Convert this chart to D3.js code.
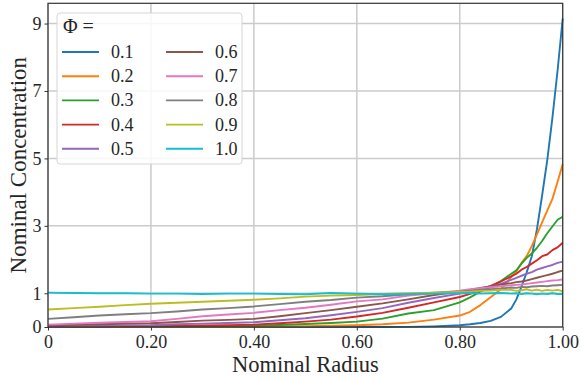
<!DOCTYPE html>
<html><head><meta charset="utf-8">
<script src="https://cdn.jsdelivr.net/npm/d3@7"></script>
<style>body{margin:0;background:#fff}svg{display:block}</style>
</head><body>
<svg id="c" width="582" height="376"></svg>
<script>
const radius = [0,0.05,0.1,0.15,0.2,0.25,0.3,0.35,0.4,0.45,0.5,0.55,0.6,0.65,0.7,0.75,0.8,0.82,0.84,0.86,0.88,0.9,0.91,0.92,0.93,0.94,0.95,0.96,0.97,0.98,0.99,1.0];
const phiLabels = ["0.1","0.2","0.3","0.4","0.5","0.6","0.7","0.8","0.9","1.0"];
const phi01 = [0,0,0,0,0,0,0,0,0,0,0,0,0,0.002,0.005,0.02,0.05,0.08,0.12,0.18,0.30,0.55,0.82,1.2,1.62,2.1,2.9,3.9,4.95,6.2,7.6,9.15];
const phi02 = [0,0,0,0.002,0.003,0.004,0.005,0.008,0.012,0.018,0.025,0.035,0.05,0.08,0.13,0.22,0.34,0.45,0.65,0.88,1.12,1.48,1.65,1.9,2.1,2.4,2.75,3.1,3.45,3.8,4.3,4.83];
const phi03 = [0.005,0.006,0.008,0.01,0.012,0.016,0.02,0.025,0.035,0.06,0.09,0.12,0.16,0.25,0.40,0.50,0.73,0.88,1.05,1.18,1.36,1.58,1.68,1.88,2.05,2.18,2.35,2.55,2.78,2.98,3.18,3.27];
const phi04 = [0.01,0.012,0.015,0.02,0.025,0.035,0.045,0.055,0.07,0.11,0.16,0.22,0.31,0.42,0.57,0.73,0.89,0.98,1.10,1.22,1.35,1.5,1.58,1.7,1.78,1.88,1.98,2.1,2.15,2.28,2.36,2.5];
const phi05 = [0.02,0.025,0.03,0.04,0.05,0.08,0.1,0.12,0.14,0.2,0.26,0.35,0.45,0.56,0.72,0.86,0.99,1.06,1.13,1.2,1.28,1.4,1.46,1.52,1.58,1.63,1.7,1.75,1.8,1.84,1.9,1.94];
const phi06 = [0.05,0.065,0.08,0.095,0.11,0.15,0.19,0.21,0.24,0.32,0.41,0.5,0.6,0.7,0.82,0.95,1.05,1.1,1.16,1.21,1.26,1.3,1.33,1.35,1.38,1.42,1.46,1.5,1.54,1.58,1.63,1.67];
const phi07 = [0.07,0.1,0.13,0.15,0.17,0.24,0.32,0.37,0.42,0.5,0.57,0.66,0.76,0.82,0.93,1.0,1.08,1.12,1.15,1.18,1.21,1.24,1.25,1.26,1.28,1.3,1.32,1.34,1.36,1.38,1.39,1.41];
const phi08 = [0.24,0.29,0.34,0.38,0.41,0.46,0.52,0.56,0.61,0.68,0.75,0.8,0.87,0.91,0.97,1.02,1.05,1.07,1.1,1.12,1.14,1.17,1.16,1.19,1.18,1.2,1.21,1.22,1.21,1.23,1.24,1.25];
const phi09 = [0.52,0.56,0.6,0.65,0.69,0.72,0.75,0.78,0.81,0.85,0.9,0.93,0.95,0.98,1.0,1.02,1.04,1.05,1.07,1.08,1.1,1.1,1.07,1.09,1.12,1.08,1.11,1.07,1.1,1.08,1.1,1.06];
const phi10 = [1.02,1.01,1.0,1.0,0.99,0.99,0.98,0.99,0.99,0.98,0.97,1.01,0.99,0.97,0.98,0.99,1.0,1.01,0.99,1.0,1.01,0.99,1.0,0.98,1.0,0.99,0.97,0.99,0.98,1.0,0.98,0.98];
const seriesValues = [phi01,phi02,phi03,phi04,phi05,phi06,phi07,phi08,phi09,phi10];
const xTicks = [0,0.2,0.4,0.6,0.8,1.0];
const xTickLabels = ["0","0.20","0.40","0.60","0.80","1.00"];
const yTicks = [0,1,3,5,7,9];
const colors = ["#1f77b4","#ff7f0e","#2ca02c","#d62728","#9467bd","#8c564b","#e377c2","#7f7f7f","#bcbd22","#17becf"];

const svg = d3.select("#c");
const font = "'Liberation Serif','Times New Roman',serif";
const L=48, R=562.7, T=3.3, B=327;
const x = d3.scaleLinear().domain([0,1]).range([L,R]);
const y = d3.scaleLinear().domain([0,9.6]).range([B,T]);

// grid
const g = svg.append("g");
g.selectAll("line.gx").data(xTicks).join("line")
  .attr("x1",d=>x(d)).attr("x2",d=>x(d)).attr("y1",T).attr("y2",B)
  .attr("stroke","#cbcbcb").attr("stroke-width",1.5);
g.selectAll("line.gy").data(yTicks).join("line")
  .attr("x1",L).attr("x2",R).attr("y1",d=>y(d)).attr("y2",d=>y(d))
  .attr("stroke","#cbcbcb").attr("stroke-width",1.5);

// lines
const line = d3.line().x((d,i)=>x(radius[i])).y(d=>y(d));
svg.append("g").selectAll("path").data(seriesValues).join("path")
  .attr("d",d=>line(d)).attr("fill","none")
  .attr("stroke",(d,i)=>colors[i]).attr("stroke-width",1.9)
  .attr("stroke-linejoin","round").attr("stroke-linecap","butt");

// axes
const xa = svg.append("g").attr("transform",`translate(0,${B})`)
  .call(d3.axisBottom(x).tickValues(xTicks).tickFormat((d,i)=>xTickLabels[i]).tickSize(3.5).tickPadding(3));
const ya = svg.append("g").attr("transform",`translate(${L},0)`)
  .call(d3.axisLeft(y).tickValues(yTicks).tickFormat(d3.format("d")).tickSize(3.5).tickPadding(3));
[xa,ya].forEach(a=>{
  a.select(".domain").remove();
  a.selectAll(".tick line").attr("stroke","#333").attr("stroke-width",1);
  a.selectAll("text").attr("font-family",font).attr("font-size",18).attr("fill","#262626");
});
xa.selectAll("text").attr("dy","0.78em");

// frame
svg.append("rect").attr("x",L).attr("y",T).attr("width",R-L).attr("height",B-T)
  .attr("fill","none").attr("stroke","#333").attr("stroke-width",1.2);

// axis labels
svg.append("text").attr("x",(L+R)/2).attr("y",371.5).attr("text-anchor","middle")
  .attr("font-family",font).attr("font-size",22.5).attr("fill","#262626").text("Nominal Radius");
svg.append("text").attr("transform",`translate(26,${(T+B)/2}) rotate(-90)`).attr("text-anchor","middle")
  .attr("font-family",font).attr("font-size",23).attr("fill","#262626").text("Nominal Concentration");

// legend
const lg = svg.append("g");
lg.append("rect").attr("x",57).attr("y",13).attr("width",185).attr("height",151).attr("rx",3)
  .attr("fill","#fff").attr("fill-opacity",0.85).attr("stroke","#d6d6d6").attr("stroke-width",1);
lg.append("text").attr("x",63).attr("y",33).attr("font-family",font).attr("font-size",20)
  .attr("fill","#262626").text("Φ =");
const items = lg.selectAll("g.it").data(phiLabels).join("g")
  .attr("transform",(d,i)=>`translate(${i<5?62:166},${52+ (i%5)*24.2})`);
items.append("line").attr("x1",0).attr("x2",37).attr("y1",0).attr("y2",0)
  .attr("stroke",(d,i)=>colors[i]).attr("stroke-width",1.9);
items.append("text").attr("x",49).attr("y",6).attr("font-family",font).attr("font-size",18)
  .attr("fill","#262626").text(d=>d);
</script>
</body></html>
